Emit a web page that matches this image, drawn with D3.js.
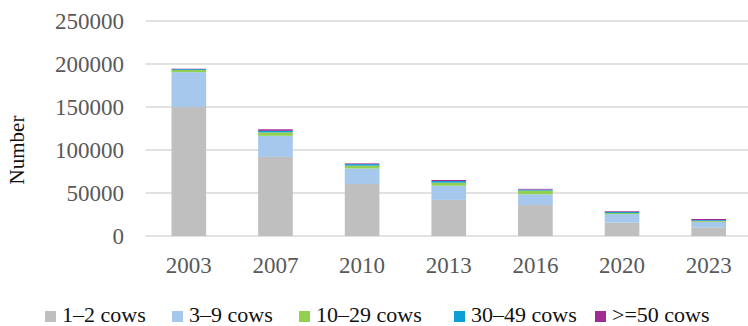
<!DOCTYPE html>
<html>
<head>
<meta charset="utf-8">
<script src="https://cdn.jsdelivr.net/npm/d3@7"></script>
<style>
  body { margin: 0; background: #fff; }
  svg { display: block; font-family: "Liberation Serif", "Times New Roman", serif; }
</style>
</head>
<body>
<script>
// data
var years = ["2003", "2007", "2010", "2013", "2016", "2020", "2023"];
var groups = ["1–2 cows", "3–9 cows", "10–29 cows", "30–49 cows", ">=50 cows"];
var cows1to2   = [150000, 92000, 60500, 42000, 36000, 15500, 10000];
var cows3to9   = [40500, 24500, 18000, 16500, 12500, 10000, 6500];
var cows10to29 = [2500, 4000, 3300, 3500, 4300, 1200, 1000];
var cows30to49 = [1000, 1800, 1800, 1900, 1200, 1200, 900];
var cows50plus = [500, 1800, 800, 1200, 800, 800, 1400];
var yTicks = [0, 50000, 100000, 150000, 200000, 250000];
var colors = ["#bfbfbf", "#a5c8ec", "#92d050", "#0e9ed6", "#a02b93"];

var width = 748, height = 326;
var plotLeft = 145.5, plotRight = 752, plotTop = 21, plotBottom = 236;

var svg = d3.select("body").append("svg")
	.attr("width", width)
	.attr("height", height);

var rows = years.map(function(y, i){
	return {year: y, g0: cows1to2[i], g1: cows3to9[i], g2: cows10to29[i], g3: cows30to49[i], g4: cows50plus[i]};
});
var keys = ["g0", "g1", "g2", "g3", "g4"];
var stacked = d3.stack().keys(keys)(rows);

var x = d3.scaleBand()
	.domain(years)
	.range([plotLeft, plotRight])
	.paddingInner(0.6)
	.paddingOuter(0.3);

var y = d3.scaleLinear()
	.domain([0, 250000])
	.range([plotBottom, plotTop]);

//gridlines
svg.append("g")
	.selectAll("line")
	.data(yTicks)
	.enter()
	.append("line")
	.attr("x1", plotLeft)
	.attr("x2", width)
	.attr("y1", function(d){ return y(d); })
	.attr("y2", function(d){ return y(d); })
	.attr("stroke", "#d9d9d9")
	.attr("stroke-width", 1.5);

//y tick labels
svg.append("g")
	.selectAll("text")
	.data(yTicks)
	.enter()
	.append("text")
	.attr("x", 124)
	.attr("y", function(d){ return y(d); })
	.attr("dy", "0.34em")
	.attr("text-anchor", "end")
	.attr("font-size", 23)
	.attr("fill", "#595959")
	.text(function(d){ return d; });

//bars
svg.append("g")
	.selectAll("g")
	.data(stacked)
	.enter()
	.append("g")
	.attr("fill", function(d, i){ return colors[i]; })
	.selectAll("rect")
	.data(function(d){ return d; })
	.enter()
	.append("rect")
	.attr("x", function(d){ return x(d.data.year); })
	.attr("width", x.bandwidth())
	.attr("y", function(d){ return y(d[1]); })
	.attr("height", function(d){ return y(d[0]) - y(d[1]); });

//x axis labels
svg.append("g")
	.selectAll("text")
	.data(years)
	.enter()
	.append("text")
	.attr("x", function(d){ return x(d) + x.bandwidth() / 2; })
	.attr("y", 273)
	.attr("text-anchor", "middle")
	.attr("font-size", 23)
	.attr("fill", "#595959")
	.text(function(d){ return d; });

//y axis title
svg.append("text")
	.attr("transform", "translate(24,150) rotate(-90)")
	.attr("text-anchor", "middle")
	.attr("font-size", 21)
	.attr("fill", "#111")
	.text("Number");

//legend
var legendX = [45, 172, 299, 454, 595];
var legend = svg.append("g")
	.selectAll("g")
	.data(groups)
	.enter()
	.append("g")
	.attr("transform", function(d, i){ return "translate(" + legendX[i] + ",0)"; });
legend.append("rect")
	.attr("y", 311)
	.attr("width", 11)
	.attr("height", 11)
	.attr("fill", function(d, i){ return colors[i]; });
legend.append("text")
	.attr("x", 17)
	.attr("y", 322)
	.attr("font-size", 22)
	.attr("fill", "#111")
	.text(function(d){ return d; });
</script>
</body>
</html>
